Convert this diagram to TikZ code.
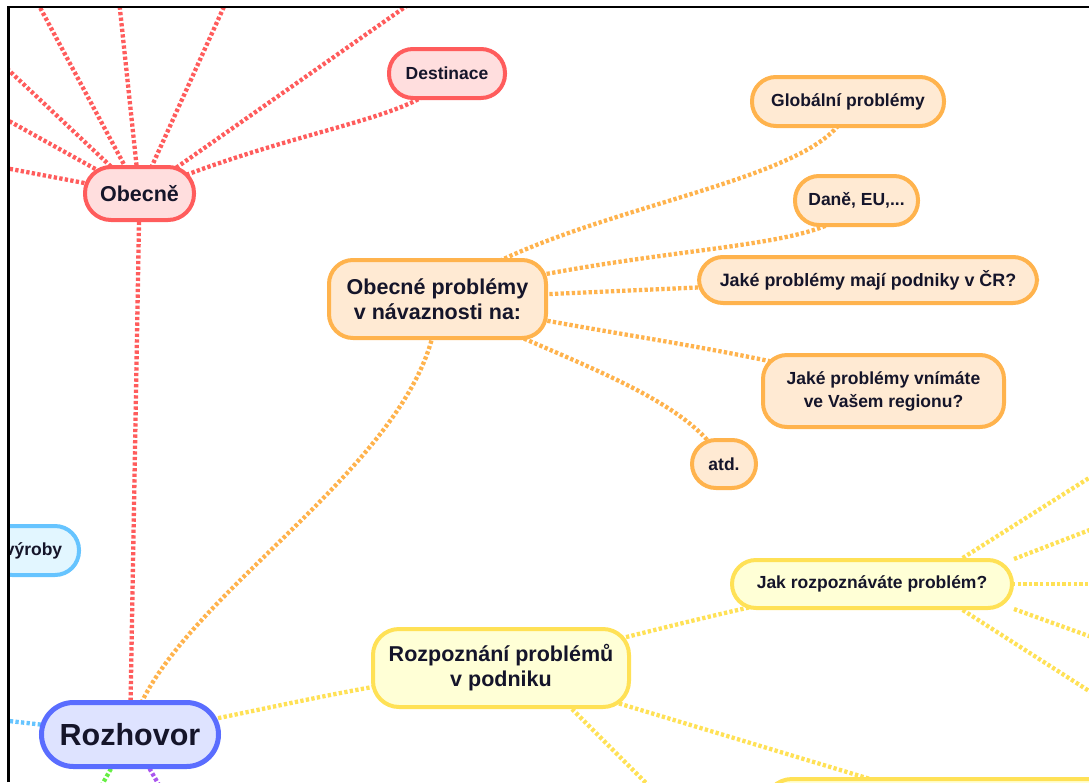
\documentclass[tikz,border=0pt]{standalone}
\usepackage{fontspec}
\setmainfont{Liberation Sans}
\usetikzlibrary{backgrounds}

% palette
\definecolor{ink}{HTML}{15152A}
\definecolor{redline}{HTML}{FF5C5C}
\definecolor{redfill}{HTML}{FFDEDE}
\definecolor{orline}{HTML}{FFB34D}
\definecolor{orfill}{HTML}{FFEAD3}
\definecolor{yeline}{HTML}{FFE156}
\definecolor{yefill}{HTML}{FFFFD6}
\definecolor{blline}{HTML}{66C4FF}
\definecolor{blfill}{HTML}{E2F6FF}
\definecolor{roline}{HTML}{5A6DFF}
\definecolor{rofill}{HTML}{DEE3FF}
\definecolor{grline}{HTML}{66EE44}
\definecolor{puline}{HTML}{AA55EE}

\tikzset{
  bubble/.style={draw, line width=4pt, text=ink, align=center, inner sep=0pt,
    rounded corners=24pt, font=\bfseries\fontsize{17.5}{23}\selectfont},
  bigtext/.style={font=\bfseries\fontsize{21.5}{25}\selectfont},
  nodesize/.style 2 args={minimum width=#1pt, minimum height=#2pt},
  redbub/.style={bubble, draw=redline, fill=redfill},
  orbub/.style={bubble, draw=orline, fill=orfill},
  yebub/.style={bubble, draw=yeline, fill=yefill},
  blbub/.style={bubble, draw=blline, fill=blfill},
  link/.style={line width=4.3pt, dash pattern=on 3.3pt off 2.3pt},
}

\begin{document}
\begin{tikzpicture}[x=1pt, y=-1pt]
\useasboundingbox (0,0) rectangle (1089,782);

% ---------- topics ----------
\begin{scope}
\clip (9.5,8.5) rectangle (1089,782);
\node[redbub, bigtext, nodesize={109}{53}, rounded corners=26pt] (obecne) at (139.5,193.5) {Obecně};
\node[redbub, nodesize={116}{49}] (dest) at (447,73.5) {Destinace};

\node[orbub, bigtext, nodesize={217}{78}] (op) at (437.5,299) {Obecné problémy\\v návaznosti na:};
\node[orbub, nodesize={192}{49}] (glob) at (848,101.5) {Globální problémy};
\node[orbub, nodesize={123}{49}] (dane) at (856.5,200.5) {Daně, EU,...};
\node[orbub, nodesize={338}{46}, font=\bfseries\fontsize{17.9}{23}\selectfont] (cr) at (868,280) {Jaké problémy mají podniky v ČR?};
\node[orbub, nodesize={241}{72}] (region) at (883.5,391) {Jaké problémy vnímáte\\ve Vašem regionu?};
\node[orbub, nodesize={64}{48}] (atd) at (724,464) {atd.};

\node[blbub, nodesize={91}{49}] (vyroby) at (33.5,550.5) {výroby};

\node[bubble, draw=roline, fill=rofill, line width=5pt, rounded corners=32pt,
      nodesize={177}{64}, font=\bfseries\fontsize{30.5}{34}\selectfont] (rozhovor) at (130,734.5) {Rozhovor};

\node[yebub, bigtext, nodesize={256}{78}, rounded corners=26pt] (rozp) at (501,668) {Rozpoznání problémů\\v podniku};
\node[yebub, nodesize={280}{48}] (jak) at (872,584) {Jak rozpoznáváte problém?};
\node[yebub, nodesize={390}{54}, rounded corners=27pt] (dalsi) at (960,806) {};
\end{scope}

% ---------- connectors ----------
\begin{scope}[on background layer]
\clip (9.5,8.5) rectangle (1089,782);
% free ends leaving the frame
\coordinate (r1) at (36,0);
\coordinate (r2) at (119,0);
\coordinate (r3) at (227,0);
\coordinate (r4) at (415,0);
\coordinate (r5) at (0,62);
\coordinate (r6) at (0,116);
\coordinate (r7) at (0,167);
\coordinate (y1) at (1100,471);
\coordinate (y2) at (1100,526);
\coordinate (y3) at (1100,584);
\coordinate (y4) at (1100,640);
\coordinate (y5) at (1100,698);
\coordinate (yb) at (655,792);
\coordinate (bl) at (0,720);
\coordinate (gr) at (98,792);
\coordinate (pu) at (163,792);

% red branch
\begin{scope}[link, draw=redline]
\draw (rozhovor.center) -- (obecne.center);
\foreach \c in {r1,r2,r3,r4,r5,r6,r7} \draw (obecne.center) -- (\c);
\draw (obecne.center) .. controls (300,125) and (425,120) .. (dest.center);
\end{scope}

% orange branch
\begin{scope}[link, draw=orline]
\draw (rozhovor.center) .. controls (160,600) and (437,460) .. (op.center);
\draw (op.center) .. controls (550,205) and (845,185) .. (glob.center);
\draw (op.center) .. controls (650,240) and (835,255) .. (dane.center);
\draw (op.center) -- (cr.center);
\draw (op.center) .. controls (600,335) and (760,350) .. (region.center);
\draw (op.center) .. controls (560,360) and (690,395) .. (atd.center);
\end{scope}

% yellow branch
\begin{scope}[link, draw=yeline]
\draw (rozhovor.center) .. controls (250,715) and (350,685) .. (rozp.center);
\draw (rozp.center) .. controls (620,640) and (760,600) .. (jak.center);
\draw (rozp.center) -- (dalsi.center);
\draw (rozp.-30) -- (yb);
\draw (jak.16) -- (y1);
\draw (jak.10.6) -- (y2);
\draw (jak.center) -- (y3);
\draw (jak.-10.6) -- (y4);
\draw (jak.-16) -- (y5);
\end{scope}

% other branches
\draw[link, draw=blline] (rozhovor.center) -- (bl);
\draw[link, draw=grline] (rozhovor.center) -- (gr);
\draw[link, draw=puline] (rozhovor.center) -- (pu);
\end{scope}

% ---------- frame ----------
\draw[line width=2.5pt, black] (8.5,782) -- (8.5,7) -- (1089,7);
\end{tikzpicture}
\end{document}
